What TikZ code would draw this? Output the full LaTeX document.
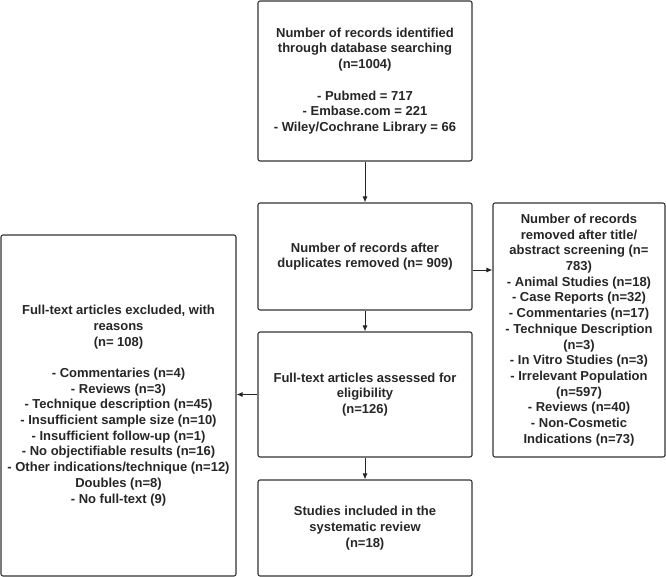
\documentclass[tikz,border=0pt]{standalone}
\usepackage{fontspec}
\setmainfont{Liberation Sans}
\usetikzlibrary{arrows.meta}
\begin{document}
\begin{tikzpicture}[x=1pt,y=-1pt,
  box/.style={draw=black!80, line width=1.1pt, rounded corners=2pt, align=center,
    font=\bfseries\fontsize{13}{15.7}\selectfont, text=black!85, inner sep=0pt},
  arr/.style={draw=black!85, line width=0.9pt, -{Latex[length=6pt,width=5pt]}}]
\useasboundingbox (0,0) rectangle (666,577);
\node[box, minimum width=214pt, minimum height=160pt] (top) at (365,81)
  {Number of records identified\\through database searching\\(n=1004)\\[15.7pt]- Pubmed = 717\\- Embase.com = 221\\- Wiley/Cochrane Library = 66};
\node[box, minimum width=214pt, minimum height=107pt] (dup) at (365,256.5)
  {Number of records after\\duplicates removed (n= 909)};
\node[box, minimum width=172pt, minimum height=254pt] (rem) at (579,330)
  {Number of records\\removed after title/\\abstract screening (n=\\783)\\- Animal Studies (n=18)\\- Case Reports (n=32)\\- Commentaries (n=17)\\- Technique Description\\(n=3)\\- In Vitro Studies (n=3)\\- Irrelevant Population\\(n=597)\\- Reviews (n=40)\\- Non-Cosmetic\\Indications (n=73)};
\node[box, minimum width=214pt, minimum height=125pt] (elig) at (365,394.5)
  {Full-text articles assessed for\\eligibility\\(n=126)};
\node[box, minimum width=235pt, minimum height=341pt] (exc) at (118.5,405.5)
  {Full-text articles excluded, with\\reasons\\(n= 108)\\[15.7pt]- Commentaries (n=4)\\- Reviews (n=3)\\- Technique description (n=45)\\- Insufficient sample size (n=10)\\- Insufficient follow-up (n=1)\\- No objectifiable results (n=16)\\- Other indications/technique (n=12)\\Doubles (n=8)\\- No full-text (9)};
\node[box, minimum width=214pt, minimum height=96pt] (inc) at (365,528)
  {Studies included in the\\systematic review\\(n=18)};
\draw[arr] (top.south) -- (dup.north);
\draw[arr] (dup.south) -- (elig.north);
\draw[arr] (elig.south) -- (inc.north);
\draw[arr] (dup.east |- 0,270) -- (rem.west |- 0,270);
\draw[arr] (elig.west) -- (exc.east |- elig.west);
\end{tikzpicture}
\end{document}
